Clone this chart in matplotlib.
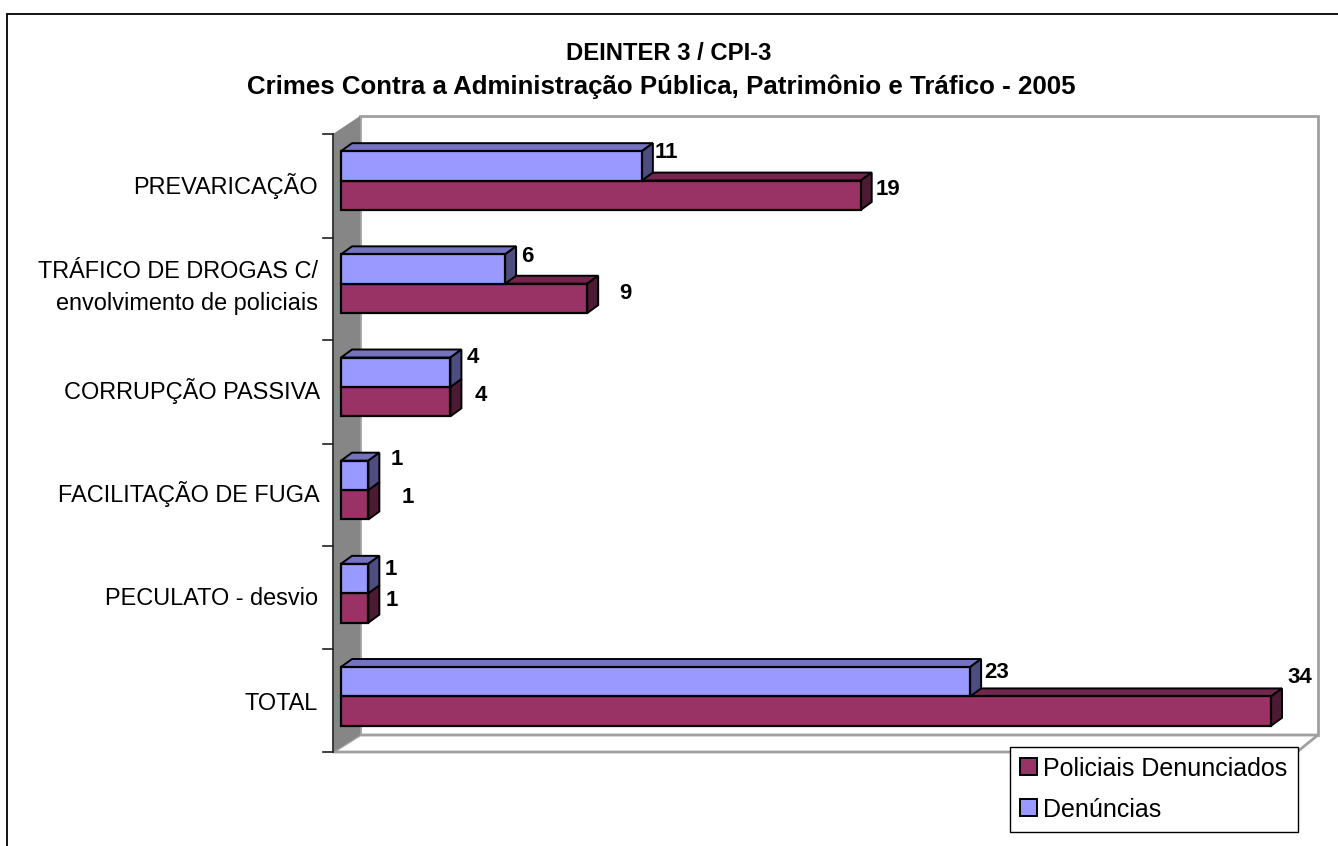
import matplotlib
matplotlib.use("Agg")
import matplotlib.pyplot as plt
from matplotlib.patches import Polygon, Rectangle

plt.rcParams["font.family"] = ["Liberation Sans", "DejaVu Sans"]

categorias = ["PREVARICAÇÃO", "TRÁFICO DE DROGAS C/\nenvolvimento de policiais", "CORRUPÇÃO PASSIVA",
              "FACILITAÇÃO DE FUGA", "PECULATO - desvio", "TOTAL"]
denuncias = [11, 6, 4, 1, 1, 23]
policiais = [19, 9, 4, 1, 1, 34]

AZUL = "#9999ff"
AZUL_TOPO = "#7373bf"
AZUL_LADO = "#4d4d80"
VINHO = "#993366"
VINHO_TOPO = "#73264d"
VINHO_LADO = "#4d1a33"

W, H = 1338, 846
fig = plt.figure(figsize=(W / 100, H / 100), dpi=100, facecolor="white")


def box(x0, y0, x1, y1):
    # pixels da imagem (y para baixo) -> posicao do axes
    return [x0 / W, 1 - y1 / H, (x1 - x0) / W, (y1 - y0) / H]


# moldura e paredes, em pixels
bg = fig.add_axes([0, 0, 1, 1])
bg.set_xlim(0, W)
bg.set_ylim(H, 0)
bg.axis("off")
bg.add_patch(Rectangle((6.5, 14.5), W, H, fc="white", ec="black", lw=1.3))
bg.add_patch(Polygon([(360, 116), (1318, 116), (1318, 735), (360, 735)], fc="white", ec="#a0a0a0", lw=2))
bg.add_patch(Polygon([(333, 752), (360, 735), (1318, 735), (1297, 752)], fc="white", ec="#a0a0a0", lw=2))
bg.add_patch(Polygon([(333, 134), (360, 116), (360, 735), (333, 752)], fc="#868686", ec="none"))
bg.plot([333, 333], [134, 752], color="#303030", lw=1.3)
for ty in [134, 238, 340, 444, 546, 649, 752]:
    bg.plot([323, 333], [ty, ty], color="#202020", lw=1.2)

bg.text(669, 53, "DEINTER 3 / CPI-3", ha="center", va="center", fontsize=17.2, fontweight="bold")
bg.text(661, 87, "Crimes Contra a Administração Pública, Patrimônio e Tráfico - 2005",
        ha="center", va="center", fontsize=18.6, fontweight="bold")

# barras
ax = fig.add_axes(box(341, 129, 1271, 748))
ax.patch.set_alpha(0)
ax.set_xlim(0, 34)
ax.set_ylim(5.5, -0.5)
ax.axis("off")

dx = 11 * 34 / 930
dy = 8 / 103.1
h = 0.285


def barra3d(v, yc, frente, topo, lado):
    y0, y1 = yc - h / 2, yc + h / 2
    ax.add_patch(Polygon([(0, y0), (dx, y0 - dy), (v + dx, y0 - dy), (v, y0)], fc=topo, ec="black", lw=1.4, clip_on=False))
    ax.add_patch(Polygon([(v, y0), (v + dx, y0 - dy), (v + dx, y1 - dy), (v, y1)], fc=lado, ec="black", lw=1.4, clip_on=False))
    ax.barh(yc, v, height=h, color=frente, edgecolor="black", linewidth=1.6, clip_on=False)


for i in range(len(categorias)):
    barra3d(policiais[i], i + h / 2, VINHO, VINHO_TOPO, VINHO_LADO)
    barra3d(denuncias[i], i - h / 2, AZUL, AZUL_TOPO, AZUL_LADO)

# rotulos deslocados a mao como no original
off_den = [(13, 13), (16, 13), (16, 15), (22, 16), (16, 9), (14, 9)]
off_pol = [(15, 6), (32, 5), (24, 6), (33, 7), (17, 7), (16, 34)]
for i in range(len(categorias)):
    ax.annotate(str(denuncias[i]), (denuncias[i], i - h / 2), xytext=off_den[i], textcoords="offset pixels",
                va="center", fontsize=16, fontweight="bold", annotation_clip=False)
    ax.annotate(str(policiais[i]), (policiais[i], i + h / 2), xytext=off_pol[i], textcoords="offset pixels",
                va="center", fontsize=16, fontweight="bold", annotation_clip=False)

off_cat = [(-23, -5), (-23, -4), (-21, -4), (-21, -4), (-23, -5), (-23, -7)]
for i, c in enumerate(categorias):
    ax.annotate(c, (0, i), xytext=off_cat[i], textcoords="offset pixels", ha="right", va="center",
                fontsize=16.9, linespacing=1.5, annotation_clip=False)

# legenda
leg = bg.legend(handles=[Rectangle((0, 0), 1, 1, fc=VINHO, ec="black", lw=1.4), Rectangle((0, 0), 1, 1, fc=AZUL, ec="black", lw=1.4)],
                labels=["Policiais Denunciados", "Denúncias"],
                loc="upper left", bbox_to_anchor=(1009.5 / W, 1 - 746.5 / H), bbox_transform=fig.transFigure,
                fontsize=18, frameon=True, fancybox=False, framealpha=1, edgecolor="black",
                handlelength=0.68, handleheight=0.68, handletextpad=0.27, labelspacing=0.68, borderaxespad=0, borderpad=0.4)
leg.get_frame().set_linewidth(1.0)
leg.set_zorder(10)

fig.savefig("out.png", dpi=100)
